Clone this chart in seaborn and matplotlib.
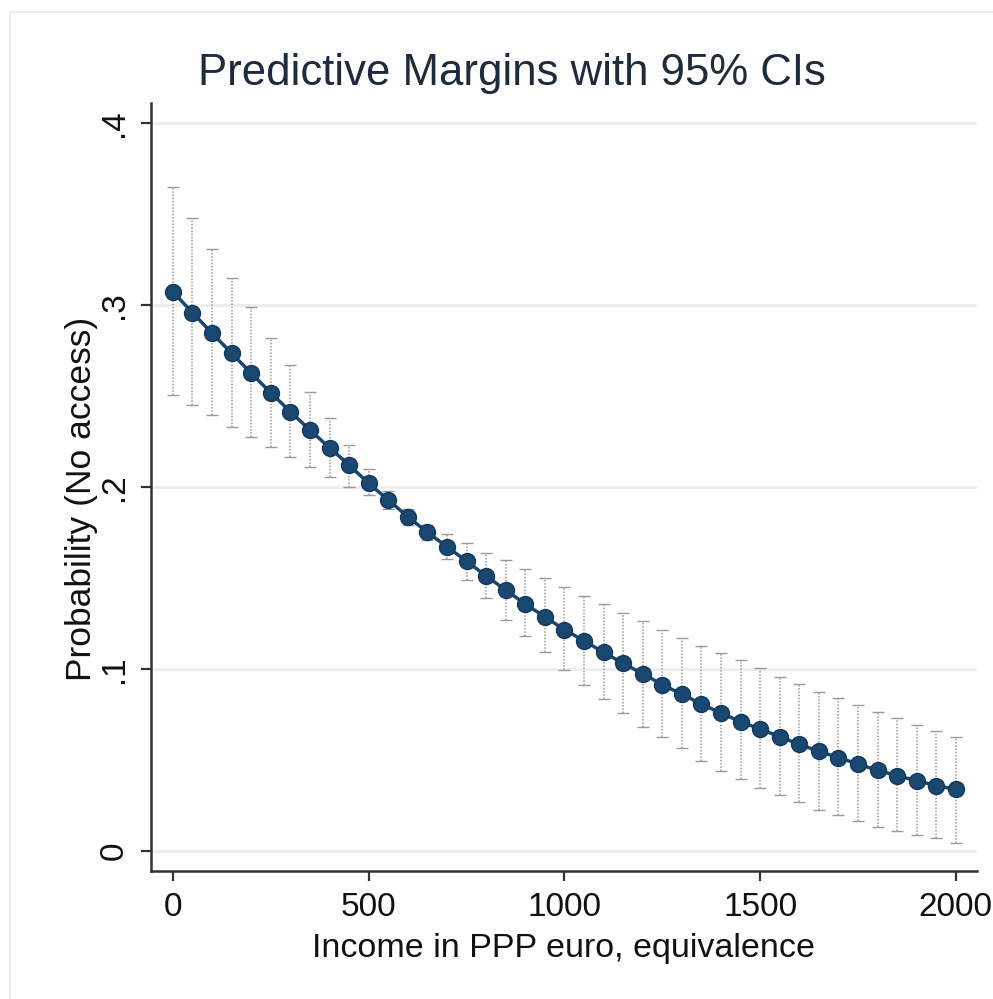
import numpy as np
import pandas as pd
import matplotlib
matplotlib.use("Agg")
import matplotlib.pyplot as plt
import seaborn as sns
from matplotlib.patches import Rectangle

income = [0, 50, 100, 150, 200, 250, 300, 350, 400, 450,
          500, 550, 600, 650, 700, 750, 800, 850, 900, 950,
          1000, 1050, 1100, 1150, 1200, 1250, 1300, 1350, 1400, 1450,
          1500, 1550, 1600, 1650, 1700, 1750, 1800, 1850, 1900, 1950, 2000]

margin = [0.3072, 0.2958, 0.2845, 0.2735, 0.2625, 0.2518, 0.2414, 0.2313, 0.2216, 0.2121,
          0.2020, 0.1929, 0.1837, 0.1751, 0.1672, 0.1593, 0.1511, 0.1434, 0.1357, 0.1287,
          0.1216, 0.1155, 0.1092, 0.1031, 0.0974, 0.0914, 0.0861, 0.0808, 0.0757, 0.0711,
          0.0670, 0.0628, 0.0586, 0.0548, 0.0513, 0.0478, 0.0443, 0.0414, 0.0386, 0.0359, 0.0339]

ci_upper = [0.365, 0.348, 0.331, 0.315, 0.299, 0.282, 0.267, 0.252, 0.238, 0.223,
            0.210, 0.198, 0.188, 0.179, 0.174, 0.169, 0.164, 0.160, 0.155, 0.150,
            0.145, 0.140, 0.1355, 0.1305, 0.1264, 0.1214, 0.1168, 0.1126, 0.109, 0.1049,
            0.1003, 0.0958, 0.0918, 0.0875, 0.0839, 0.0802, 0.0765, 0.0729, 0.0692, 0.0659, 0.0628]

ci_lower = [0.2505, 0.245, 0.2396, 0.2331, 0.2273, 0.2218, 0.2166, 0.2111, 0.2057, 0.2002,
            0.1956, 0.188, 0.179, 0.171, 0.1607, 0.1489, 0.139, 0.127, 0.118, 0.1095,
            0.0995, 0.0912, 0.0833, 0.0757, 0.0683, 0.0625, 0.0564, 0.0496, 0.0441, 0.0394,
            0.0344, 0.0308, 0.0271, 0.0225, 0.0198, 0.0166, 0.0134, 0.0112, 0.0088, 0.007, 0.0042]

x_ticks = [0, 500, 1000, 1500, 2000]
y_ticks = [0, 0.1, 0.2, 0.3, 0.4]
y_tick_labels = ["0", ".1", ".2", ".3", ".4"]

title = "Predictive Margins with 95% CIs"
x_label = "Income in PPP euro, equivalence"
y_label = "Probability (No access)"

sns.set_theme(style="white")
plt.rcParams["font.family"] = ["Liberation Sans", "DejaVu Sans"]

df = pd.DataFrame({"income": income, "margin": margin,
                   "lower": ci_lower, "upper": ci_upper})

fig = plt.figure(figsize=(9.93, 9.99), dpi=100)
fig.patch.set_facecolor("white")
ax = fig.add_axes([151 / 993, 1 - 871 / 999, (977 - 151) / 993, (871 - 103) / 999])
ax.set_facecolor("white")

# faint outer frame
fig.patches.append(Rectangle((10 / 993, -0.01), 1.0, 1 - 12 / 999 + 0.01,
                             transform=fig.transFigure, fill=False,
                             edgecolor="#ebebeb", linewidth=1.5))

# grid lines
for yv in y_ticks:
    ax.axhline(yv, color="#ececec", linewidth=2.0, zorder=0)

navy = "#1a476f"
# CI bars
eb = ax.errorbar(df["income"], df["margin"],
                 yerr=[df["margin"] - df["lower"], df["upper"] - df["margin"]],
                 fmt="none", ecolor="#9a9a9a", elinewidth=1.1, capsize=4, capthick=1.0,
                 zorder=1)
for lc in eb[2]:
    lc.set_linestyle((0, (1, 1.1)))

sns.lineplot(data=df, x="income", y="margin", ax=ax, color=navy, linewidth=2.5,
             marker="o", markersize=11.5, markeredgecolor="#123a5c", markeredgewidth=1,
             zorder=3)

ax.set_xlim(-56, 2054)
ax.set_ylim(-0.011, 0.411)
ax.set_xticks(x_ticks)
ax.set_xticklabels([str(v) for v in x_ticks])
ax.set_yticks(y_ticks)
ax.set_yticklabels(y_tick_labels, rotation=90, va="center")

ax.tick_params(axis="both", which="major", direction="out", length=7, width=1.6,
               color="#333333", labelsize=24, labelcolor="#111111", pad=8,
               bottom=True, left=True)

for side in ["top", "right"]:
    ax.spines[side].set_visible(False)
for side in ["left", "bottom"]:
    ax.spines[side].set_color("#333333")
    ax.spines[side].set_linewidth(1.8)

ax.set_xlabel(x_label, fontsize=24.5, color="#111111", labelpad=7)
ax.set_ylabel(y_label, fontsize=25.5, color="#111111", labelpad=6)
ax.yaxis.set_label_coords(-0.064, 0.485)

fig.text(512 / 993, 1 - 73 / 999, title, ha="center", va="center",
         fontsize=31.5, color="#1e2b3c")

fig.savefig("out.png", dpi=100, facecolor="white")
